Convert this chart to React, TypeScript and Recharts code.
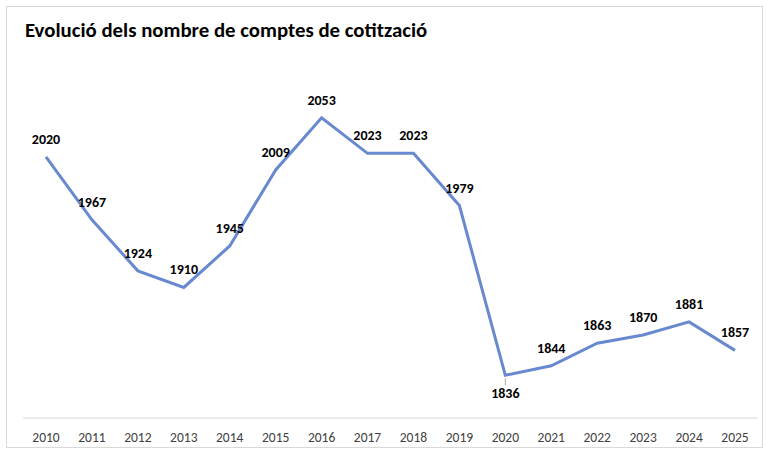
import React from "react"
import { LineChart, Line, XAxis, YAxis, LabelList } from "recharts"

const years = ["2010", "2011", "2012", "2013", "2014", "2015", "2016", "2017", "2018", "2019", "2020", "2021", "2022", "2023", "2024", "2025"]
const comptes = [2020, 1967, 1924, 1910, 1945, 2009, 2053, 2023, 2023, 1979, 1836, 1844, 1863, 1870, 1881, 1857]

const data = years.map((year, i) => ({ year, comptes: comptes[i] }))

const FONT = "Carlito, 'Open Sans', 'Noto Sans', sans-serif"

// labels sit above the points, except the minimum which goes below with a small leader
const renderLabel = (props: any) => {
  const { x, y, value, index } = props
  const below = years[index] === "2020"
  if (below) {
    return (
      <g>
        <line x1={x} y1={y + 3} x2={x} y2={y + 10} stroke="#a6a6a6" strokeWidth={1} />
        <text x={x} y={y + 23} textAnchor="middle" fontSize={14} fontWeight="bold" fill="#000" fontFamily={FONT}>
          {value}
        </text>
      </g>
    )
  }
  return (
    <text x={x} y={y - 13} textAnchor="middle" fontSize={14} fontWeight="bold" fill="#000" fontFamily={FONT}>
      {value}
    </text>
  )
}

export default function App() {
  return (
    <div style={{ position: "absolute", left: 0, top: 0, width: 766, height: 449, background: "#fff" }}>
      <div
        style={{
          position: "absolute",
          left: 6,
          top: 6,
          width: 755,
          height: 440,
          border: "1px solid #d9d9d9",
        }}
      />
      <div
        style={{
          position: "absolute",
          left: 25,
          top: 17,
          fontFamily: FONT,
          fontWeight: "bold",
          fontSize: 20.8,
          color: "#000",
          whiteSpace: "nowrap",
        }}
      >
        Evolució dels nombre de comptes de cotització
      </div>
      <div style={{ position: "absolute", left: 0, top: 0 }}>
        <LineChart width={766} height={449} data={data} margin={{ top: 62, right: 8, left: 23, bottom: 1 }}>
          <XAxis
            dataKey="year"
            height={30}
            padding={{ left: 23, right: 23 }}
            axisLine={{ stroke: "#d9d9d9", strokeWidth: 1 }}
            tickLine={false}
            tick={{ fontSize: 13.5, fill: "#404040", fontFamily: FONT }}
            dy={6}
          />
          <YAxis hide domain={[1800, 2100]} />
          <Line
            type="linear"
            dataKey="comptes"
            stroke="#6889cf"
            strokeWidth={3}
            dot={false}
            isAnimationActive={false}
          >
            <LabelList dataKey="comptes" content={renderLabel} />
          </Line>
        </LineChart>
      </div>
    </div>
  )
}
